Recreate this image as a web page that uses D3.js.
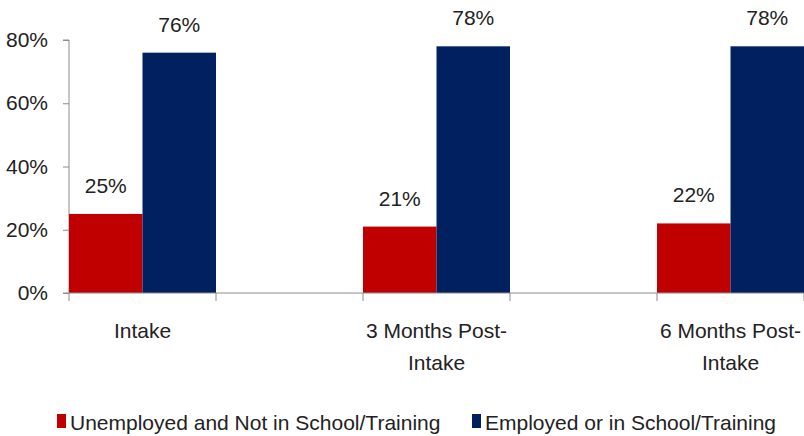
<!DOCTYPE html>
<meta charset="utf-8">
<style>
body { margin: 0; background: #fff; }
text { font-family: "Liberation Sans", Arial, sans-serif; fill: #222; }
.axis path, .axis line { stroke: #8c8c8c; }
</style>
<svg width="804" height="436"></svg>
<script src="https://d3js.org/d3.v7.min.js"></script>
<script>

var categories = ["Intake", "3 Months Post-\nIntake", "6 Months Post-\nIntake"];
var series = ["Unemployed and Not in School/Training", "Employed or in School/Training"];
var unemployed = [25, 21, 22];
var employed = [76, 78, 78];
var yTicks = [0, 20, 40, 60, 80];
var colors = ["#c00000", "#002060"];

var svg = d3.select("svg");
var mLeft = 69, mTop = 40, mBottom = 293;

var x = d3.scaleBand()
    .domain(categories)
    .range([mLeft, mLeft + 3 * 294])
    .padding(0);

var y = d3.scaleLinear()
    .domain([0, 80])
    .range([mBottom, mTop]);

var bw = x.bandwidth() / 4;

var rows = categories.map(function(c, i) {
  return {cat: c, vals: [unemployed[i], employed[i]]};
});

// y axis
var yAxis = svg.append("g")
    .attr("class", "axis")
    .attr("transform", "translate(" + mLeft + ",0)")
    .call(d3.axisLeft(y).tickValues(yTicks).tickSize(6).tickFormat(d => d + "%"));
yAxis.select(".domain").attr("d", "M-6," + mTop + "H0V" + mBottom + "H-6");
yAxis.selectAll("text").attr("x", -21).style("font-size", "21px")
    .style("font-family", "'Liberation Sans', Arial, sans-serif").attr("fill", "#222");

// bars
var g = svg.append("g");
rows.forEach(function(r) {
  r.vals.forEach(function(v, j) {
    g.append("rect")
        .attr("x", x(r.cat) + j * bw)
        .attr("y", y(v))
        .attr("width", bw)
        .attr("height", mBottom - y(v))
        .attr("fill", colors[j]);
    g.append("text")
        .attr("x", x(r.cat) + j * bw + bw / 2)
        .attr("y", y(v) - 21)
        .attr("text-anchor", "middle")
        .style("font-size", "21px")
        .text(v + "%");
  });
});

// x axis
var xa = svg.append("g").attr("class", "axis");
xa.append("line")
    .attr("x1", mLeft).attr("x2", 804)
    .attr("y1", mBottom).attr("y2", mBottom);
categories.forEach(function(c) {
  [0, 0.5].forEach(function(f) {
    var tx = x(c) + f * x.bandwidth();
    xa.append("line")
        .attr("x1", tx).attr("x2", tx)
        .attr("y1", mBottom).attr("y2", mBottom + 8);
  });
  var t = svg.append("text")
      .attr("text-anchor", "middle")
      .style("font-size", "21px");
  c.split("\n").forEach(function(line, k) {
    t.append("tspan")
        .attr("x", x(c) + bw)
        .attr("y", 338 + k * 32)
        .text(line);
  });
});

// legend
var legX = [57, 472];
series.forEach(function(s, i) {
  svg.append("rect")
      .attr("x", legX[i]).attr("y", 414)
      .attr("width", 9).attr("height", 14)
      .attr("fill", colors[i]);
  svg.append("text")
      .attr("x", legX[i] + 13).attr("y", 430)
      .style("font-size", "21px")
      .text(s);
});

</script>
